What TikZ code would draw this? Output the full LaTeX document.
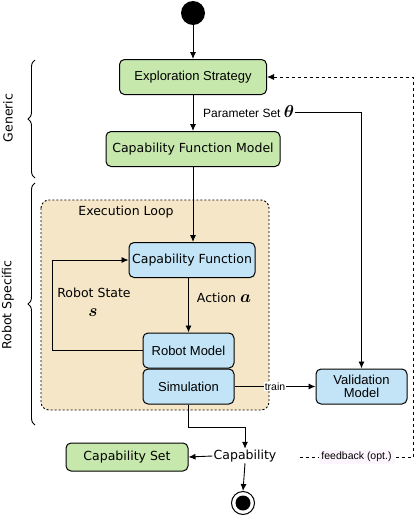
\documentclass[tikz,border=0pt]{standalone}
\usepackage{fontspec}
\usepackage{amsmath,bm}
\setmainfont{DejaVu Sans}
\newfontfamily\arialfont{Liberation Sans}
\usetikzlibrary{positioning,decorations.pathreplacing,arrows.meta,calc}

\definecolor{boxgreen}{RGB}{199,232,172}
\definecolor{boxblue}{RGB}{194,228,246}
\definecolor{loopbeige}{RGB}{245,230,200}
\definecolor{fbpink}{RGB}{253,245,253}

\newcommand{\bigsym}[1]{{\fontsize{17}{17}\selectfont$\boldsymbol{#1}$}}

\tikzset{
  box/.style = {draw, line width=1pt, rounded corners=5pt, inner sep=2pt,
                minimum height=35pt, font=\fontsize{12.5}{14}\selectfont, align=center},
  greenbox/.style = {box, fill=boxgreen},
  bluebox/.style = {box, fill=boxblue},
  flow/.style = {line width=0.9pt, -{Latex[length=7pt,width=6pt]}},
  lbl/.style = {font=\fontsize{12.5}{14}\selectfont, inner sep=1pt},
  arial/.style = {font=\arialfont\fontsize{13}{14}\selectfont},
  smallarial/.style = {font=\arialfont\fontsize{10.5}{12}\selectfont},
}

\begin{document}
\begin{tikzpicture}[x=1pt, y=-1pt]
        \useasboundingbox (0,0) rectangle (415,517);

        % execution loop background
        \draw[dash pattern=on 2pt off 2pt, line width=0.9pt, fill=loopbeige, rounded corners=8pt]
            (41,200) rectangle (269,410);
        \node[lbl] (looplbl) at (126,212) {Execution Loop};

        % nodes
        \node[circle, fill=black, minimum size=24pt, inner sep=0pt] (start) at (193,13) {};
        \node[greenbox, arial, minimum width=147pt] (explore) at (193,77) {Exploration Strategy};
        \node[greenbox, minimum width=174pt] (cfm) at (193,149) {Capability Function Model};
        \node[bluebox, minimum width=126pt] (capfn) at (192,260) {Capability Function};
        \node[bluebox, arial, minimum width=91pt] (robot) at (188.5,350.5) {Robot Model};
        \node[bluebox, arial, minimum width=91pt] (sim) at (188.5,386.5) {Simulation};
        \node[bluebox, arial, minimum width=91pt] (valid) at (361.5,386.5) {Validation\\[-1pt]Model};
        \node[greenbox, minimum width=122pt, minimum height=28pt] (capset) at (127,457) {Capability Set};
        \node[lbl] (cap) at (245,456) {Capability};
        \node[circle, draw, line width=1pt, minimum size=23pt, inner sep=0pt] (end) at (243,503) {};
        \node[circle, fill=black, minimum size=15pt, inner sep=0pt] at (end) {};

        % labels
        \node[font=\arialfont\fontsize{12}{13}\selectfont, inner sep=1pt, anchor=west] (param) at (202,112) {Parameter Set \bigsym{\theta}};
        \node[lbl] (action) at (224,298) {Action \bigsym{a}};
        \node[lbl] (state) at (94,293) {Robot State};
        \node[inner sep=0pt] (statesym) at (93,313) {\bigsym{s}};

        % connectors
        \draw[flow] (start) -- (explore);
        \draw[flow] (explore) -- (cfm);
        \draw[flow] (param.east) -| (valid.north);
        \draw[flow] (cfm) -- (capfn.north -| cfm);
        \draw[flow] (capfn.south -| robot) -- (robot);
        \coordinate (loopcorner) at (52,350.5);
        \draw[flow] (robot.west) -- (loopcorner) |- (capfn.west);
        \draw[flow] (sim.east) -- node[fill=white, inner sep=1pt, smallarial] {train} (valid.west);
        \draw[flow] (sim.south) -- ++(0,23) -| (cap.north);
        \draw[flow] (cap.west) -- (capset.east);
        \draw[flow] (cap.south) -- (end.north);

        % feedback
        \coordinate (fbstart) at (300,457);
        \coordinate (fbcorner) at (413,457);
        \draw[line width=0.9pt, dashed] (fbstart) -- node[fill=fbpink, inner sep=2pt, smallarial] {feedback (opt.)} (fbcorner);
        \draw[flow, dashed] (fbcorner) |- (explore.east);

        % braces
        \draw[line width=0.9pt, decorate, decoration={brace, amplitude=7pt}] (35,178) -- (35,60);
        \draw[line width=0.9pt, decorate, decoration={brace, amplitude=7pt}] (35,425) -- (35,183);
        \node[lbl, rotate=90] (generic) at (8,118) {Generic};
        \node[lbl, rotate=90] (specific) at (8,305) {Robot Specific};

\end{tikzpicture}
\end{document}
